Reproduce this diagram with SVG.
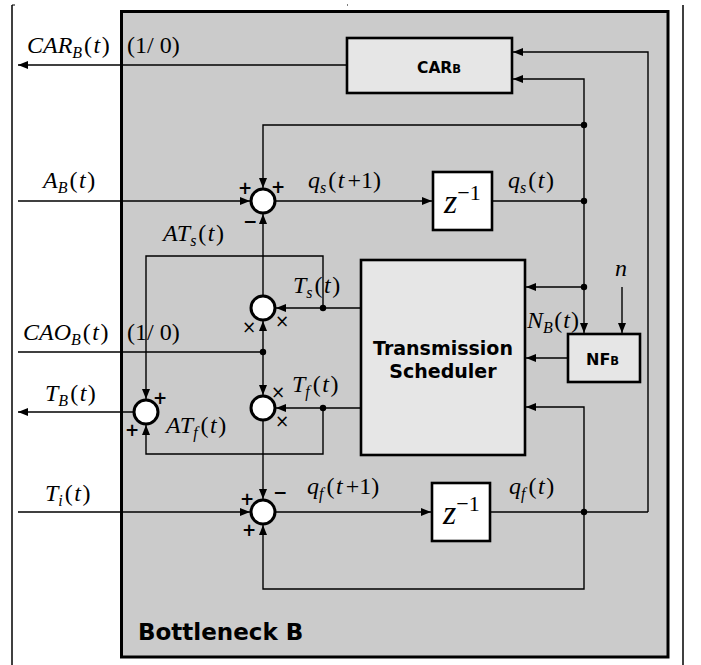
<svg xmlns="http://www.w3.org/2000/svg" width="701" height="665" viewBox="0 0 701 665">
<defs>
<marker id="ah" viewBox="0 0 10 8" refX="10" refY="4" markerWidth="10" markerHeight="8" markerUnits="userSpaceOnUse" orient="auto">
<path d="M0,0 L10,4 L0,8 Z" fill="#000"/>
</marker>
</defs>
<style>
.ln{fill:none;stroke:#000;stroke-width:1.4}
.ar{marker-end:url(#ah)}
.blk{fill:#e6e6e6;stroke:#000;stroke-width:2.6}
.zb{fill:#fff;stroke:#000;stroke-width:2.6}
.cir{fill:#fff;stroke:#000;stroke-width:3}
.dot{fill:#000}
.m{font-family:"Liberation Serif","Times New Roman",serif;font-size:24px;fill:#000}
.i{font-style:italic}
.sub{font-size:16px;font-style:italic}
.bt{font-family:"DejaVu Sans",Verdana,sans-serif;font-weight:bold;fill:#000}
.sg{font-family:"DejaVu Sans",sans-serif;font-weight:bold;font-size:17px;text-anchor:middle;dominant-baseline:central}
.x{font-family:"DejaVu Sans",sans-serif;font-size:17px;text-anchor:middle;dominant-baseline:central}
</style>
<line x1="12" y1="5" x2="12" y2="665" stroke="#000" stroke-width="1.5"/>
<line x1="12" y1="5" x2="15" y2="5" stroke="#000" stroke-width="1"/>
<line x1="683" y1="5" x2="683" y2="665" stroke="#000" stroke-width="1.5"/>
<rect x="347" y="4.5" width="1" height="1" fill="#000"/>
<g id="bottleneck">
<rect x="121.5" y="11.5" width="546.5" height="645.5" fill="#cbcbcb" stroke="#000" stroke-width="3"/>
<text class="bt" x="138" y="640" font-size="23">Bottleneck B</text>
</g>
<g id="carb">
<rect class="blk" x="347" y="38" width="165" height="55"/>
<text class="bt" x="417" y="73" font-size="15.5">CAR<tspan font-size="11.5">B</tspan></text>
</g>
<g id="zs">
<rect class="zb" x="433" y="172" width="59" height="58"/>
<text class="m" x="444" y="213"><tspan class="i" font-size="34">z</tspan><tspan font-size="22" dy="-13">−1</tspan></text>
</g>
<g id="zf">
<rect class="zb" x="432" y="483" width="58" height="58"/>
<text class="m" x="443" y="524"><tspan class="i" font-size="34">z</tspan><tspan font-size="22" dy="-13">−1</tspan></text>
</g>
<g id="scheduler">
<rect class="blk" x="361" y="260" width="164" height="195"/>
<text class="bt" x="443" y="355" font-size="19" text-anchor="middle">Transmission</text>
<text class="bt" x="443" y="378" font-size="19" text-anchor="middle">Scheduler</text>
</g>
<g id="nfb">
<rect class="blk" x="568" y="334" width="72" height="48"/>
<text class="bt" x="586" y="365" font-size="16">NF<tspan font-size="11.5">B</tspan></text>
</g>
<g id="connectors">
<path class="ln ar" d="M347,65 H18"/>
<path class="ln ar" d="M648,512 V52 H513"/>
<path class="ln ar" d="M584,201 V79 H513"/>
<path class="ln ar" d="M584,201 V333"/>
<path class="ln ar" d="M584,125 H263 V188"/>
<path class="ln ar" d="M18,201 H250"/>
<path class="ln ar" d="M276,201 H432"/>
<path class="ln" d="M492,201 H584"/>
<path class="ln ar" d="M584,287 H526"/>
<path class="ln ar" d="M622,287 V333"/>
<path class="ln ar" d="M568,358 H526"/>
<path class="ln ar" d="M584,512 V407 H526"/>
<path class="ln ar" d="M584,512 V589 H263 V525"/>
<path class="ln" d="M490,512 H648"/>
<path class="ln ar" d="M276,512 H431"/>
<path class="ln ar" d="M18,512 H250"/>
<path class="ln ar" d="M361,308 H276"/>
<path class="ln ar" d="M263,295 V214"/>
<path class="ln" d="M18,352 H263"/>
<path class="ln ar" d="M263,352 V321"/>
<path class="ln ar" d="M263,352 V395"/>
<path class="ln ar" d="M361,408 H276"/>
<path class="ln ar" d="M263,421 V499"/>
<path class="ln ar" d="M323,308 V256 H146 V399"/>
<path class="ln ar" d="M323,408 V454 H146 V425"/>
<path class="ln ar" d="M133,412 H18"/>
<circle class="dot" cx="584" cy="125" r="3.2"/>
<circle class="dot" cx="584" cy="201" r="3.2"/>
<circle class="dot" cx="584" cy="287" r="3.2"/>
<circle class="dot" cx="584" cy="512" r="3.2"/>
<circle class="dot" cx="263" cy="352" r="3.2"/>
<circle class="dot" cx="323" cy="308" r="3.2"/>
<circle class="dot" cx="323" cy="408" r="3.2"/>
</g>
<g id="sum-s">
<circle class="cir" cx="263" cy="201" r="12"/>
<text class="sg" x="245" y="188">+</text>
<text class="sg" x="278" y="187">+</text>
<text class="sg" x="250" y="221">−</text>
</g>
<g id="mul-s">
<circle class="cir" cx="263" cy="308" r="12"/>
<text class="x" x="249" y="327">×</text>
<text class="x" x="282" y="321">×</text>
</g>
<g id="mul-f">
<circle class="cir" cx="263" cy="408" r="12"/>
<text class="x" x="278" y="392">×</text>
<text class="x" x="282" y="421">×</text>
</g>
<g id="sum-f">
<circle class="cir" cx="263" cy="512" r="12"/>
<text class="sg" x="247" y="499">+</text>
<text class="sg" x="280" y="492">−</text>
<text class="sg" x="249" y="530">+</text>
</g>
<g id="sum-b">
<circle class="cir" cx="146" cy="412" r="12"/>
<text class="sg" x="160" y="398">+</text>
<text class="sg" x="132" y="430">+</text>
</g>
<g id="labels">
<text class="m" x="27" y="53"><tspan class="i">CAR</tspan><tspan class="sub" dy="5">B</tspan><tspan dy="-5" dx="2">(</tspan><tspan class="i" dx="1.5">t</tspan><tspan dx="1.5">)</tspan></text>
<text class="m" x="127" y="53">(1/ 0)</text>
<text class="m" x="43" y="188"><tspan class="i">A</tspan><tspan class="sub" dy="5">B</tspan><tspan dy="-5" dx="2">(</tspan><tspan class="i" dx="1.5">t</tspan><tspan dx="1.5">)</tspan></text>
<text class="m" x="308" y="188"><tspan class="i">q</tspan><tspan class="sub" dy="5">s</tspan><tspan dy="-5" dx="2">(</tspan><tspan class="i" dx="1.5">t</tspan><tspan dx="3">+1)</tspan></text>
<text class="m" x="508" y="188"><tspan class="i">q</tspan><tspan class="sub" dy="5">s</tspan><tspan dy="-5" dx="2">(</tspan><tspan class="i" dx="1.5">t</tspan><tspan dx="1.5">)</tspan></text>
<text class="m" x="163" y="241"><tspan class="i">AT</tspan><tspan class="sub" dy="5">s</tspan><tspan dy="-5" dx="2">(</tspan><tspan class="i" dx="1.5">t</tspan><tspan dx="1.5">)</tspan></text>
<text class="m" x="293" y="293"><tspan class="i">T</tspan><tspan class="sub" dy="5">s</tspan><tspan dy="-5" dx="2">(</tspan><tspan class="i" dx="1.5">t</tspan><tspan dx="1.5">)</tspan></text>
<text class="m" x="23" y="340"><tspan class="i">CAO</tspan><tspan class="sub" dy="5">B</tspan><tspan dy="-5" dx="2">(</tspan><tspan class="i" dx="1.5">t</tspan><tspan dx="1.5">)</tspan></text>
<text class="m" x="127" y="340">(1/ 0)</text>
<text class="m" x="292" y="392"><tspan class="i">T</tspan><tspan class="sub" dy="5">f</tspan><tspan dy="-5" dx="3">(</tspan><tspan class="i" dx="1.5">t</tspan><tspan dx="1.5">)</tspan></text>
<text class="m" x="45" y="401"><tspan class="i">T</tspan><tspan class="sub" dy="5">B</tspan><tspan dy="-5" dx="2">(</tspan><tspan class="i" dx="1.5">t</tspan><tspan dx="1.5">)</tspan></text>
<text class="m" x="166" y="433"><tspan class="i">AT</tspan><tspan class="sub" dy="5">f</tspan><tspan dy="-5" dx="3">(</tspan><tspan class="i" dx="1.5">t</tspan><tspan dx="1.5">)</tspan></text>
<text class="m" x="45" y="501"><tspan class="i">T</tspan><tspan class="sub" dy="5">i</tspan><tspan dy="-5" dx="2">(</tspan><tspan class="i" dx="1.5">t</tspan><tspan dx="1.5">)</tspan></text>
<text class="m" x="307" y="494"><tspan class="i">q</tspan><tspan class="sub" dy="5">f</tspan><tspan dy="-5" dx="3">(</tspan><tspan class="i" dx="1.5">t</tspan><tspan dx="3">+1)</tspan></text>
<text class="m" x="509" y="494"><tspan class="i">q</tspan><tspan class="sub" dy="5">f</tspan><tspan dy="-5" dx="3">(</tspan><tspan class="i" dx="1.5">t</tspan><tspan dx="1.5">)</tspan></text>
<text class="m" x="527" y="328" font-size="21" fill="#333"><tspan class="i">N</tspan><tspan class="sub" dy="5" font-size="14">B</tspan><tspan dy="-5" dx="1.5">(</tspan><tspan class="i" dx="1">t</tspan><tspan dx="1">)</tspan></text>
<text class="m i" x="615" y="276" font-size="25">n</text>
</g>
</svg>
